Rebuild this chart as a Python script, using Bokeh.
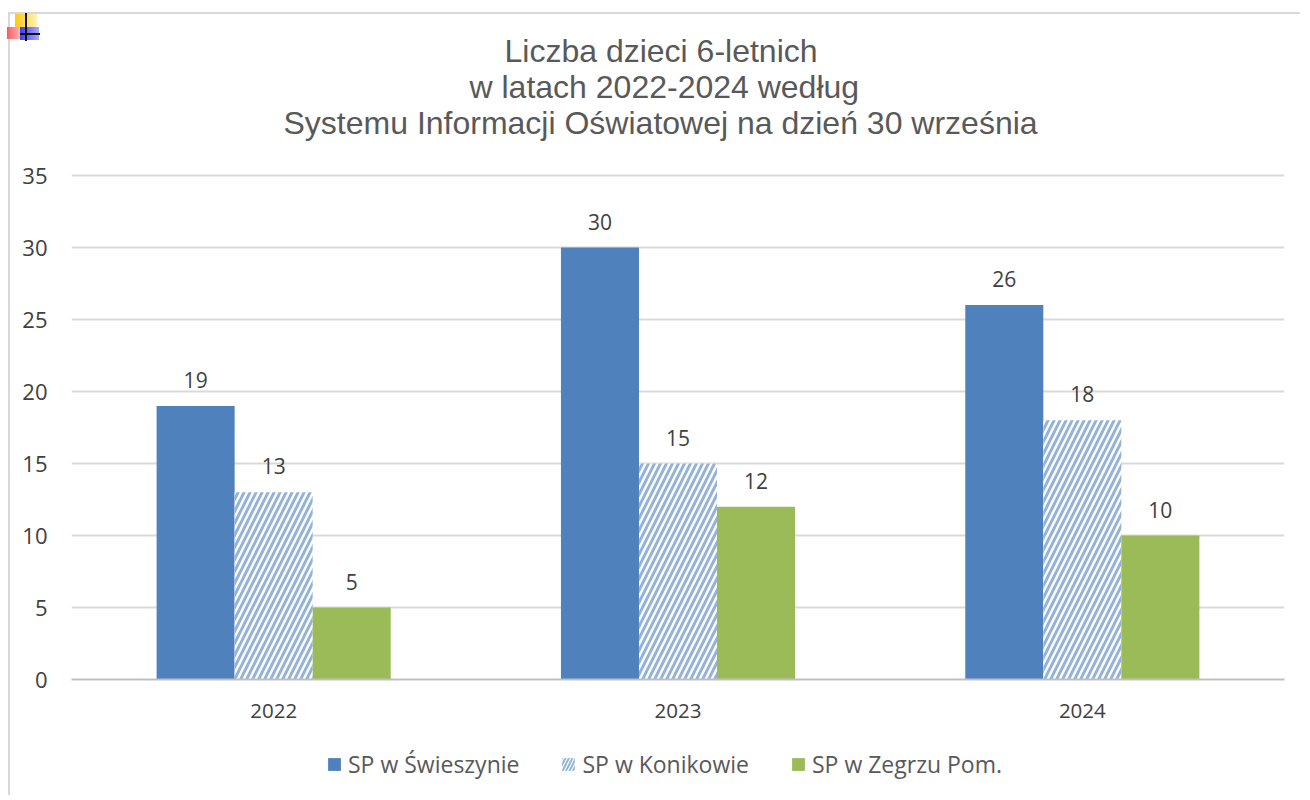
from bokeh.plotting import figure
from bokeh.embed import file_html
from bokeh.resources import INLINE
from bokeh.layouts import column
from bokeh.models import ColumnDataSource, Legend, LegendItem, FactorRange, Range1d, Title, InlineStyleSheet
from bokeh.transform import dodge
from bokeh.core.properties import value

years = ["2022", "2023", "2024"]
series_names = ["SP w Świeszynie", "SP w Konikowie", "SP w Zegrzu Pom."]
swieszyn = [19, 30, 26]
konikowo = [13, 15, 18]
zegrze = [5, 12, 10]
y_ticks = [0, 5, 10, 15, 20, 25, 30, 35]
title_lines = ["Liczba dzieci 6-letnich", "w latach 2022-2024 według",
               "Systemu Informacji Oświatowej na dzień 30 września"]
title_left_px = [504, 469, 283]

GRAY = "#595959"
DARK = "#404040"
BLUE = "#4F81BD"
GREEN = "#9BBB59"
GRID = "#D9D9D9"
FONT = "Open Sans"

W_PX, H_PX, H_LEG = 1300, 745, 50
FL, FR, FT, FB = 71, 1284, 172, 679
PX_PER_UNIT = 504 / 35
Y_END = (FB - FT) / PX_PER_UNIT

p = figure(width=W_PX, height=H_PX, x_range=FactorRange(factors=years, range_padding=0),
           y_range=Range1d(0, Y_END), output_backend="svg", toolbar_location=None,
           min_border_left=FL, min_border_right=W_PX - FR, min_border_top=FT, min_border_bottom=H_PX - FB,
           outline_line_color=None, background_fill_color="white", border_fill_color="white")

src = ColumnDataSource(dict(year=years, a=swieszyn, b=konikowo, c=zegrze))
W = 0.193
r_a = p.vbar(x=dodge("year", -W, range=p.x_range), top="a", width=W, source=src, fill_color=BLUE, line_color=None)
r_b = p.vbar(x=dodge("year", 0, range=p.x_range), top="b", width=W, source=src, fill_color="white", line_color=None,
             hatch_pattern="right_diagonal_line", hatch_color=BLUE, hatch_alpha=0.6, hatch_scale=12, hatch_weight=3)
r_c = p.vbar(x=dodge("year", W, range=p.x_range), top="c", width=W, source=src, fill_color=GREEN, line_color=None)

for col, off in (("a", -W), ("b", 0), ("c", W)):
    p.text(x=dodge("year", off, range=p.x_range), y=col, text=col, source=src, text_font=value(FONT),
           text_font_size="21px", text_color=DARK, text_align="center", text_baseline="bottom", y_offset=-18)

p.xgrid.visible = False
p.ygrid.grid_line_color = GRID
p.ygrid.grid_line_width = 2
p.ygrid.ticker = y_ticks
p.yaxis.ticker = y_ticks
p.yaxis.axis_line_color = None
p.yaxis.major_tick_line_color = None
p.yaxis.minor_tick_line_color = None
p.yaxis.major_label_text_font = FONT
p.yaxis.major_label_text_font_size = "22px"
p.yaxis.major_label_text_color = DARK
p.yaxis.major_label_standoff = 18
p.xaxis.axis_line_color = "#BFBFBF"
p.xaxis.axis_line_width = 2
p.xaxis.major_tick_line_color = None
p.xaxis.minor_tick_line_color = None
p.xaxis.major_label_text_font = FONT
p.xaxis.major_label_text_font_size = "20.5px"
p.xaxis.major_label_text_color = DARK
p.xaxis.major_label_standoff = 18

# blank spacer between the frame and the title block
p.add_layout(Title(text=" ", text_font_size="28px", standoff=0), "above")
# one title per line, bottom line first, so that each starts where the reference's does
for line, left in reversed(list(zip(title_lines, title_left_px))):
    p.add_layout(Title(text=line, align="left", offset=left - FL, text_font="Liberation Sans",
                       text_font_size="32px", text_font_style="normal", text_color=GRAY,
                       text_line_height=1.0, standoff=-2), "above")

# legend strip below the chart; its frame lines up with the chart's frame
leg = figure(width=W_PX, height=H_LEG, x_range=Range1d(0, 1), y_range=Range1d(0, 1), output_backend="svg",
             toolbar_location=None, min_border=0, outline_line_color=None, x_axis_location=None,
             y_axis_location=None, background_fill_color="white", border_fill_color="white")
leg.grid.visible = False
k_a = leg.vbar(x=[-5], top=[0], width=0.1, fill_color=BLUE, line_color=None)
k_b = leg.vbar(x=[-5], top=[0], width=0.1, fill_color="white", line_color=None,
               hatch_pattern="right_diagonal_line", hatch_color=BLUE, hatch_alpha=0.6, hatch_scale=7, hatch_weight=2)
k_c = leg.vbar(x=[-5], top=[0], width=0.1, fill_color=GREEN, line_color=None)
legend = Legend(items=[LegendItem(label=n, renderers=[r]) for n, r in zip(series_names, (k_a, k_b, k_c))],
                orientation="horizontal", location=(326 - FL, 15), border_line_color=None,
                background_fill_alpha=0, label_text_font=FONT, label_text_font_size="23px",
                label_text_color=GRAY, glyph_width=16, glyph_height=16, spacing=41, label_standoff=6,
                margin=0, padding=0)
leg.add_layout(legend, "center")

# the page border and the small corner marker of the source picture
def layer(c1, c2, x, y, w, h, angle=90):
    return f"linear-gradient({angle}deg,{c1},{c2}) {x}px {y}px / {w}px {h}px no-repeat"

layers = [
    layer("#111111", "#111111", 25, 13, 2, 28),
    layer("#111111", "#111111", 20, 33, 20, 2),
    layer("#3A3AFF", "#A8A8FF", 20, 27, 19, 13),
    layer("#FF5A5A", "#FFB4B4", 7, 27, 13, 12),
    layer("#FFC90E", "#FFF2B8", 15, 14, 22, 13),
    layer(GRID, GRID, 8, 12, 1292, 2),
    layer(GRID, GRID, 8, 12, 2, 783),
]
css = (":host::before{content:'';position:absolute;left:0;top:0;width:1300px;height:795px;"
       "z-index:5;pointer-events:none;background:" + ",".join(layers) + ";}")

layout = column(p, leg, spacing=0, stylesheets=[InlineStyleSheet(css=css)])
open("out.html", "w").write(file_html(layout, INLINE))
